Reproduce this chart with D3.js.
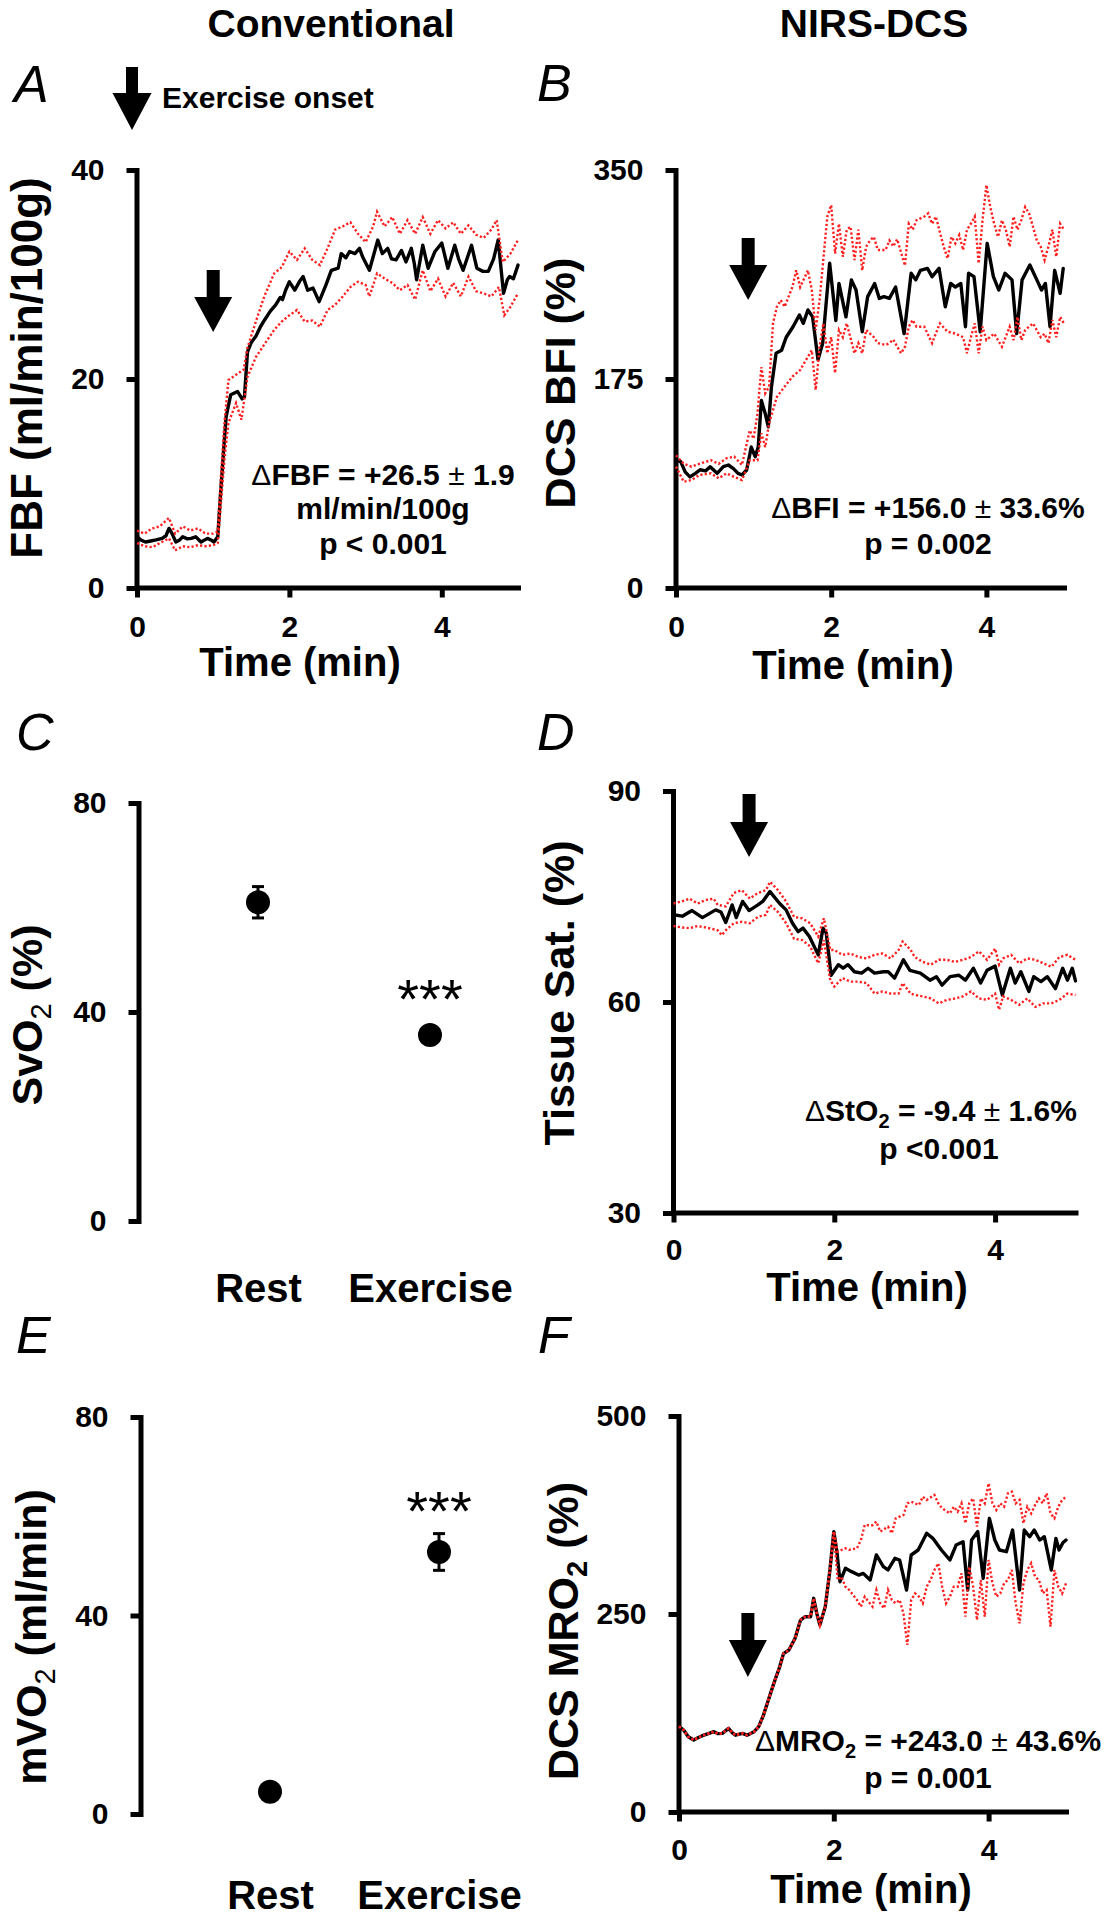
<!DOCTYPE html>
<html><head><meta charset="utf-8">
<script src="https://cdn.jsdelivr.net/npm/d3@7"></script>
<style>
body{margin:0;background:#fff;}
svg text{font-family:"Liberation Sans",Arial,sans-serif;fill:#000;}
</style></head><body>
<svg id="c" width="1106" height="1920"></svg>
<script>
// ---------------- DATA ----------------
const timeTicks = [0, 2, 4];
const categories = ["Rest", "Exercise"];

// Panel A: FBF (ml/min/100g) [time(min), value]
const fbfMean = [[0,4.9],[0.05,4.6],[0.11,4.4],[0.18,4.5],[0.25,4.6],[0.33,4.75],[0.38,5.0],[0.42,5.7],[0.46,5.2],[0.51,4.4],[0.56,4.6],[0.6,4.9],[0.66,4.7],[0.71,4.75],[0.77,4.9],[0.84,4.4],[0.925,4.75],[0.97,4.6],[1.01,4.4],[1.06,4.9],[1.1,9.4],[1.14,13.5],[1.17,16.4],[1.23,18.5],[1.32,18.8],[1.38,18.1],[1.41,18.3],[1.45,22.6],[1.5,23.5],[1.56,24.1],[1.62,25.0],[1.67,25.6],[1.75,26.5],[1.82,27.1],[1.88,27.8],[1.91,27.6],[1.95,28.5],[2.0,29.3],[2.07,28.5],[2.13,29.3],[2.18,29.8],[2.24,28.5],[2.31,28.7],[2.39,27.4],[2.48,29.0],[2.55,30.4],[2.64,30.6],[2.68,32.0],[2.74,31.6],[2.79,32.2],[2.86,32.0],[2.92,32.5],[2.96,31.7],[3.05,30.4],[3.16,33.3],[3.22,32.0],[3.29,32.5],[3.34,31.5],[3.4,31.4],[3.47,32.3],[3.53,31.2],[3.6,32.5],[3.64,31.0],[3.67,29.5],[3.75,32.8],[3.82,30.6],[3.91,32.2],[4.0,33.0],[4.08,30.6],[4.17,32.8],[4.22,31.5],[4.28,30.4],[4.39,32.8],[4.46,30.6],[4.54,30.3],[4.61,30.3],[4.68,31.5],[4.74,33.3],[4.81,28.2],[4.86,29.5],[4.89,29.8],[4.94,29.6],[5.0,30.9]];
const fbfUpper = [[0,5.5],[0.1,5.2],[0.2,5.7],[0.3,5.9],[0.42,6.7],[0.5,5.2],[0.6,5.9],[0.7,5.5],[0.8,5.7],[0.9,5.2],[1.0,5.2],[1.06,5.4],[1.1,10.5],[1.15,16.0],[1.2,19.9],[1.3,20.4],[1.4,20.9],[1.45,23.0],[1.56,25.5],[1.67,27.9],[1.8,30.1],[1.9,30.7],[2.0,32.2],[2.1,31.4],[2.2,32.5],[2.3,31.4],[2.4,30.9],[2.5,32.5],[2.6,34.3],[2.7,34.6],[2.8,35.0],[2.9,33.9],[3.0,33.1],[3.1,34.6],[3.15,36.0],[3.25,34.6],[3.35,35.5],[3.45,33.9],[3.55,35.2],[3.65,33.9],[3.75,35.5],[3.85,33.9],[3.95,35.2],[4.05,34.4],[4.15,35.0],[4.25,33.9],[4.35,34.7],[4.45,33.8],[4.55,33.5],[4.65,34.3],[4.72,35.2],[4.8,31.2],[4.9,32.0],[5.0,33.3]];
const fbfLower = [[0,4.3],[0.1,4.0],[0.2,3.9],[0.3,4.3],[0.42,4.75],[0.5,3.6],[0.6,4.0],[0.7,3.9],[0.8,4.1],[0.9,4.0],[1.0,4.1],[1.06,4.3],[1.1,8.0],[1.15,12.5],[1.2,15.8],[1.3,17.7],[1.37,16.1],[1.45,20.2],[1.56,22.1],[1.67,23.3],[1.8,24.7],[1.9,25.5],[2.0,26.1],[2.1,26.6],[2.2,25.5],[2.3,25.6],[2.4,25.0],[2.5,26.6],[2.6,27.1],[2.7,27.9],[2.8,28.8],[2.9,29.3],[3.0,29.0],[3.05,27.9],[3.15,30.1],[3.25,29.6],[3.35,29.2],[3.45,28.5],[3.55,29.0],[3.65,27.6],[3.75,30.4],[3.85,28.4],[3.95,29.6],[4.05,27.9],[4.15,29.2],[4.25,27.9],[4.35,29.8],[4.45,28.4],[4.55,28.2],[4.65,27.9],[4.75,28.8],[4.82,26.1],[4.9,26.9],[5.0,28.2]];

// Panel B: DCS BFI (%)
const bfiMean = [[0,107],[0.06,105.8],[0.12,97],[0.18,93],[0.25,96],[0.31,99],[0.38,98],[0.44,101.6],[0.53,96],[0.61,101.6],[0.675,103],[0.74,100],[0.8,96],[0.85,94.6],[0.91,98.8],[0.97,118],[1.02,110],[1.06,118],[1.1,157],[1.15,146],[1.19,135],[1.23,168.6],[1.29,196.5],[1.36,199],[1.42,210],[1.51,219],[1.59,228.6],[1.64,221.6],[1.7,232.8],[1.76,227],[1.83,191],[1.89,205],[1.98,272],[2.06,224],[2.1,255],[2.19,227],[2.26,258],[2.32,249.5],[2.4,214.6],[2.47,244],[2.56,255],[2.62,242.5],[2.68,244],[2.75,242.5],[2.83,252],[2.94,213],[3.03,263.5],[3.09,258],[3.15,266],[3.24,267.6],[3.3,260.7],[3.39,267.6],[3.47,235.5],[3.54,255],[3.6,252],[3.67,255],[3.73,218.8],[3.77,263.5],[3.84,260.7],[3.92,214.6],[4.01,288.6],[4.09,260.7],[4.16,249.5],[4.24,263.5],[4.33,258],[4.39,213],[4.46,258],[4.56,270.4],[4.65,258],[4.71,249.5],[4.76,255],[4.82,218.8],[4.88,266],[4.95,246.7],[4.99,267.6]];
const bfiUpper = [[0,111],[0.1,104],[0.2,101.6],[0.3,104],[0.45,107],[0.55,104],[0.65,108.6],[0.75,110],[0.85,103],[0.95,132],[1.0,125],[1.05,146],[1.1,185],[1.15,163],[1.2,168.6],[1.25,221.6],[1.3,235.5],[1.35,241],[1.4,235.5],[1.5,252],[1.55,266],[1.6,252],[1.7,266],[1.75,249.5],[1.8,216],[1.85,241],[1.95,311],[2.0,320.7],[2.05,280],[2.1,305],[2.15,277.4],[2.2,300],[2.25,302.5],[2.3,274.6],[2.35,300],[2.4,266],[2.45,285.8],[2.5,291],[2.55,294],[2.6,283],[2.7,283],[2.75,291],[2.8,286],[2.85,292],[2.95,270],[3.0,305],[3.05,300],[3.1,308],[3.2,311],[3.25,313.7],[3.3,305],[3.35,311],[3.4,298],[3.45,285.8],[3.5,276],[3.55,294],[3.6,288.6],[3.65,295.6],[3.7,283],[3.75,300],[3.8,305],[3.85,311],[3.9,271.8],[3.95,308],[4.0,337.4],[4.05,319],[4.1,305],[4.15,294],[4.2,308],[4.25,300],[4.3,285.8],[4.35,311],[4.4,300],[4.45,308],[4.5,319],[4.55,313.7],[4.6,302.5],[4.65,291],[4.7,285.8],[4.75,274.6],[4.8,286],[4.85,300],[4.9,277.4],[4.95,305],[5.0,300]];
const bfiLower = [[0,101.6],[0.1,89],[0.2,90.4],[0.3,94.6],[0.45,96],[0.55,91.8],[0.65,96],[0.75,93],[0.85,90.4],[0.95,107],[1.05,107],[1.1,129.5],[1.15,118],[1.2,137.9],[1.25,149],[1.3,160],[1.4,168.6],[1.5,177],[1.6,182.5],[1.7,193.7],[1.75,199],[1.8,165.8],[1.85,202],[1.9,221.6],[1.95,196.5],[2.0,210],[2.05,180],[2.1,216],[2.15,210],[2.2,221.6],[2.3,196.5],[2.35,205],[2.4,196.5],[2.45,216],[2.55,210],[2.6,205],[2.7,203.5],[2.75,205],[2.8,208],[2.9,196.5],[2.95,202],[3.0,218.8],[3.05,224.4],[3.1,218.8],[3.2,218.8],[3.3,205],[3.4,221.6],[3.5,214.6],[3.6,213],[3.7,210],[3.75,196.5],[3.8,210],[3.85,221.6],[3.9,196.5],[3.95,218.8],[4.0,207.6],[4.1,213],[4.2,202],[4.3,218.8],[4.35,207.6],[4.4,227],[4.45,207.6],[4.5,216],[4.6,221.6],[4.7,210],[4.75,213],[4.8,205],[4.85,224.4],[4.9,210],[4.95,227],[5.0,221.6]];

// Panel C: SvO2 (%)
const svoMean = [61, 35.6];
const svoErr = [3.0, 1.0];

// Panel D: Tissue Sat. (%)
const stoMean = [[0,72.4],[0.11,72.2],[0.23,73],[0.36,72],[0.45,72.6],[0.525,73.1],[0.59,72.8],[0.65,71.3],[0.73,73.8],[0.78,72],[0.86,74.3],[0.94,73],[1.05,73.8],[1.11,74.3],[1.2,75.7],[1.32,74],[1.4,73.1],[1.48,71.2],[1.55,70],[1.61,70.5],[1.69,69.3],[1.8,66.7],[1.86,70.5],[1.9,69.8],[1.96,63.8],[2.05,65.3],[2.11,64.8],[2.17,65.3],[2.25,64.3],[2.34,64.1],[2.42,64.8],[2.5,64.1],[2.61,64.3],[2.67,64.3],[2.75,63.4],[2.86,66],[2.94,64.5],[3.07,64.1],[3.19,63.1],[3.27,63.6],[3.34,62.4],[3.44,63.6],[3.55,63.8],[3.63,63.1],[3.73,64.8],[3.82,62.7],[3.9,64.5],[4.0,65.1],[4.09,61],[4.19,64.8],[4.25,62.7],[4.32,64.3],[4.42,61.5],[4.48,63.6],[4.57,62.9],[4.65,63.6],[4.75,61.9],[4.84,64.8],[4.9,63.1],[4.96,64.8],[5.0,63]];
const stoUpper = [[0,74],[0.1,74.3],[0.2,74.7],[0.3,74],[0.4,74.5],[0.5,74.7],[0.55,73.8],[0.65,73.6],[0.75,75.5],[0.85,75.9],[0.95,74.7],[1.05,75.5],[1.15,75.9],[1.2,77.1],[1.3,75.9],[1.4,74.3],[1.5,72.1],[1.6,71.9],[1.7,71.2],[1.8,69.3],[1.87,71.9],[1.95,67.4],[2.0,67.4],[2.1,66.7],[2.2,66.9],[2.3,66.4],[2.4,66.2],[2.5,66.7],[2.6,66.9],[2.7,66.2],[2.8,67.4],[2.85,68.6],[2.95,67.4],[3.0,66.4],[3.1,65.7],[3.2,65.3],[3.3,66],[3.4,66],[3.5,65.7],[3.6,66],[3.7,66.4],[3.8,67.2],[3.9,66],[4.0,67.6],[4.05,65.3],[4.1,66.2],[4.2,66.7],[4.3,65.5],[4.4,66.2],[4.5,66],[4.6,65.5],[4.7,65],[4.8,66.4],[4.9,66.7],[5.0,66]];
const stoLower = [[0,70.8],[0.1,70.6],[0.2,70.5],[0.3,70.8],[0.4,70.6],[0.55,70.2],[0.6,69.5],[0.65,70.2],[0.75,71.2],[0.85,71.4],[0.95,71.2],[1.05,72.1],[1.15,72.4],[1.2,73.8],[1.3,72.8],[1.4,71.2],[1.5,69],[1.6,68.8],[1.7,67.9],[1.8,65.5],[1.87,68.8],[1.95,63.1],[2.0,62.2],[2.1,63.4],[2.2,62.9],[2.3,62.9],[2.4,62.7],[2.5,61.2],[2.6,61.5],[2.7,61.2],[2.8,61.2],[2.85,62.7],[2.95,61.2],[3.0,61],[3.1,60.8],[3.2,60.5],[3.3,59.8],[3.4,60.3],[3.5,60.5],[3.6,60.8],[3.7,61.5],[3.8,60.5],[3.9,60.3],[4.0,61.2],[4.05,58.9],[4.1,60.8],[4.2,60.3],[4.3,59.6],[4.4,60.5],[4.5,59.3],[4.6,59.8],[4.7,59.8],[4.8,60.3],[4.9,61.2],[5.0,61]];

// Panel E: mVO2 (ml/min)
const mvoMean = [4.5, 52.8];
const mvoErr = [0.8, 3.7];

// Panel F: DCS MRO2 (%)
const mroMean = [[0,108],[0.06,103.5],[0.12,95],[0.19,91],[0.25,94],[0.32,97],[0.38,99],[0.45,101.4],[0.5,99],[0.56,99.3],[0.64,105.6],[0.69,100],[0.73,97],[0.82,99.3],[0.88,97],[0.97,101.4],[1.03,107.7],[1.09,122],[1.14,137],[1.19,152],[1.24,166.7],[1.3,183],[1.35,200],[1.42,204.5],[1.5,219.3],[1.57,242.4],[1.63,246.6],[1.7,246.6],[1.74,269.8],[1.78,250.8],[1.82,236],[1.89,259.3],[1.95,305.6],[2.0,354],[2.04,328.7],[2.08,290.8],[2.15,307.7],[2.23,303.5],[2.32,299.2],[2.38,301.3],[2.47,293],[2.55,324.5],[2.64,309.8],[2.7,305.6],[2.79,320.3],[2.85,318.2],[2.94,280.3],[3.0,324.5],[3.09,330.8],[3.2,351.9],[3.28,345.5],[3.39,330.8],[3.5,318.2],[3.58,337],[3.67,341.3],[3.73,280.3],[3.78,343.4],[3.86,354],[3.93,295],[4.01,370.8],[4.08,343.4],[4.14,330.8],[4.23,328.7],[4.31,356],[4.4,280.3],[4.46,356],[4.53,347.6],[4.59,356],[4.66,343.4],[4.72,347.6],[4.81,305.6],[4.87,345.5],[4.91,330.8],[4.96,340],[5.0,343.4]];
const mroUpper = [[2.0,354],[2.05,328.7],[2.1,330.8],[2.15,333],[2.2,331],[2.3,333],[2.35,343.4],[2.4,362.4],[2.45,362],[2.5,362],[2.55,366.6],[2.6,354],[2.7,360.3],[2.75,351.9],[2.8,370.8],[2.85,373],[2.9,375],[2.95,389.7],[3.0,391.8],[3.1,387.6],[3.15,398],[3.2,394],[3.3,400.3],[3.35,389.7],[3.4,383.4],[3.5,377],[3.55,385.5],[3.6,379.2],[3.65,389.7],[3.7,364.5],[3.75,389.7],[3.8,396],[3.85,360.3],[3.9,396],[3.95,389.7],[4.0,415],[4.05,389.7],[4.1,381.3],[4.15,389.7],[4.2,385.5],[4.25,402.4],[4.3,404.5],[4.35,389.7],[4.4,394],[4.45,364.5],[4.5,385.5],[4.55,377],[4.6,387.6],[4.65,396],[4.7,389.7],[4.75,402.4],[4.8,377],[4.85,370.8],[4.9,385.5],[4.95,394],[5.0,398]];
const mroLower = [[2.0,354],[2.05,293],[2.1,297],[2.15,284.5],[2.2,280.3],[2.3,267.7],[2.35,259.3],[2.4,271.9],[2.5,259.3],[2.55,280.3],[2.6,263.5],[2.65,257.2],[2.7,280.3],[2.75,267.7],[2.8,263.5],[2.85,267.7],[2.9,250.8],[2.95,210.9],[3.0,267.7],[3.05,276],[3.1,271.9],[3.15,263.5],[3.2,284.5],[3.25,293],[3.3,305.6],[3.35,314],[3.4,284.5],[3.45,263.5],[3.5,271.9],[3.55,284.5],[3.6,284.5],[3.65,301.3],[3.7,246.6],[3.75,309.8],[3.8,284.5],[3.85,242.4],[3.9,293],[3.95,246.6],[4.0,318.2],[4.05,288.7],[4.1,271.9],[4.15,276],[4.2,288.7],[4.25,293],[4.3,305.6],[4.35,263.5],[4.4,238.2],[4.45,288.7],[4.5,305.6],[4.55,314],[4.6,297],[4.65,293],[4.7,276],[4.75,280.3],[4.8,234],[4.85,305.6],[4.9,284.5],[4.95,276],[5.0,288.7]];

// ---------------- DRAWING ----------------
const svg = d3.select("#c");
const RED = "#ff1f1f";

function txt(x, y, s, size, opts = {}) {
  const t = svg.append("text").attr("x", x).attr("y", y)
    .attr("font-size", size)
    .attr("font-weight", opts.weight || "bold")
    .attr("text-anchor", opts.anchor || "start");
  if (opts.italic) t.attr("font-style", "italic");
  t.text(s);
  return t;
}

// rich text: parts = [{t, w, sub}]
function rich(x, y, parts, size, opts = {}) {
  const t = svg.append("text").attr("font-size", size)
    .attr("text-anchor", opts.anchor || "middle")
    .attr("font-weight", "bold");
  if (opts.rotate) t.attr("transform", `translate(${x},${y}) rotate(-90)`);
  else t.attr("x", x).attr("y", y);
  let shifted = 0;
  parts.forEach(p => {
    const sp = t.append("tspan").text(p.t);
    if (p.w) sp.attr("font-weight", p.w);
    const subShift = Math.round(size * 0.22);
    if (p.sub) {
      sp.attr("font-size", Math.round(size * 0.68)).attr("dy", subShift - shifted);
      shifted = subShift;
    } else if (shifted) {
      sp.attr("dy", -shifted); shifted = 0;
    }
  });
  return t;
}

function arrow(cx, top, headStart, tip, shaftW = 13, headW = 38) {
  const p = d3.path();
  p.moveTo(cx - shaftW / 2, top); p.lineTo(cx + shaftW / 2, top);
  p.lineTo(cx + shaftW / 2, headStart); p.lineTo(cx + headW / 2, headStart);
  p.lineTo(cx, tip); p.lineTo(cx - headW / 2, headStart);
  p.lineTo(cx - shaftW / 2, headStart); p.closePath();
  svg.append("path").attr("d", p.toString()).attr("fill", "#000");
}

function styleAxis(g, size) {
  g.attr("font-size", size).attr("font-family", "Liberation Sans, Arial, sans-serif").attr("font-weight", "bold");
  g.selectAll("path.domain").attr("stroke", "#000").attr("stroke-width", 5).attr("stroke-linecap", "square");
  g.selectAll(".tick line").attr("stroke", "#000").attr("stroke-width", 5);
  g.selectAll(".tick text").attr("fill", "#000");
}

function timePanel(c) {
  const x = d3.scaleLinear().domain([0, 5]).range([c.x0, c.x5]);
  const y = d3.scaleLinear().domain(c.yDomain).range([c.yBot, c.yTop]);
  const gy = svg.append("g").attr("transform", `translate(${c.x0 - 0.5},0)`)
    .call(d3.axisLeft(y).tickValues(c.yTicks).tickSize(10).tickSizeOuter(0).tickPadding(22).tickFormat(d3.format("d")));
  styleAxis(gy, 30);
  const gx = svg.append("g").attr("transform", `translate(0,${c.yBot - 0.5})`)
    .call(d3.axisBottom(x).tickValues(timeTicks).tickSize(10).tickSizeOuter(0).tickPadding(c.xPad || 18).tickFormat(d3.format("d")));
  styleAxis(gx, 30);
  const line = d3.line().x(d => x(d[0])).y(d => y(d[1]));
  svg.append("path").datum(c.mean).attr("d", line).attr("fill", "none")
    .attr("stroke", "#000").attr("stroke-width", 3.4).attr("stroke-linejoin", "round").attr("stroke-linecap", "round");
  [c.upper, c.lower].forEach(b => {
    svg.append("path").datum(b).attr("d", line).attr("fill", "none")
      .attr("stroke", RED).attr("stroke-width", 2.4).attr("stroke-dasharray", "2.2,2.2");
  });
  arrow(x(c.arrowT), c.arrow[0], c.arrow[1], c.arrow[2]);
  txt(c.xLabel[0], c.xLabel[1], "Time (min)", 40, { anchor: "middle" });
  return { x, y };
}

function catPanel(c) {
  const x = d3.scalePoint().domain(categories).range(c.xRange);
  const y = d3.scaleLinear().domain([0, 80]).range([c.yBot, c.yTop]);
  const gy = svg.append("g").attr("transform", `translate(${c.x0 - 0.5},0)`)
    .call(d3.axisLeft(y).tickValues([0, 40, 80]).tickSize(10).tickSizeOuter(0).tickPadding(22));
  styleAxis(gy, 30);
  const gx = svg.append("g").attr("transform", `translate(0,${c.catY})`)
    .call(d3.axisBottom(x).tickSize(0).tickPadding(0));
  gx.select("path.domain").remove();
  gx.attr("font-size", 40).attr("font-family", "Liberation Sans, Arial, sans-serif").attr("font-weight", "bold");
  gx.selectAll(".tick text").attr("fill", "#000");
  const pts = categories.map((k, i) => ({ k, m: c.mean[i], e: c.err[i] }));
  const g = svg.append("g");
  pts.forEach(p => {
    const cx = x(p.k);
    g.append("line").attr("x1", cx).attr("x2", cx).attr("y1", y(p.m - p.e)).attr("y2", y(p.m + p.e))
      .attr("stroke", "#000").attr("stroke-width", 3);
    [p.m - p.e, p.m + p.e].forEach(v => g.append("line").attr("x1", cx - 6).attr("x2", cx + 6)
      .attr("y1", y(v)).attr("y2", y(v)).attr("stroke", "#000").attr("stroke-width", 3));
    g.append("circle").attr("cx", cx).attr("cy", y(p.m)).attr("r", 12).attr("fill", "#000");
  });
  const ex = pts[1];
  svg.append("text").attr("x", x(ex.k)).attr("y", y(ex.m + ex.e) - c.starGap)
    .attr("text-anchor", "middle").attr("font-size", 56).attr("font-weight", "normal").text("***");
  return { x, y };
}

// Headers
txt(331, 37, "Conventional", 39, { anchor: "middle" });
txt(874, 37, "NIRS-DCS", 39, { anchor: "middle" });
// Panel letters
[["A", 14, 102], ["B", 537, 101], ["C", 16, 750], ["D", 537, 750], ["E", 16, 1353], ["F", 538, 1353]]
  .forEach(([s, x, y]) => txt(x, y, s, 52, { weight: "normal", italic: true }));
// Exercise onset legend
arrow(132, 67, 93, 130, 12, 39);
txt(162, 108, "Exercise onset", 30);

// Panel A
timePanel({ x0: 137, x5: 518, yTop: 170, yBot: 588, yDomain: [0, 40], yTicks: [0, 20, 40],
  mean: fbfMean, upper: fbfUpper, lower: fbfLower, arrowT: 1.0, arrow: [270, 297, 332], xLabel: [300, 676] });
rich(42, 368, [{ t: "FBF (ml/min/100g)" }], 44, { rotate: true });
rich(383, 485, [{ t: "Δ", w: "normal" }, { t: "FBF = +26.5 " }, { t: "±", w: "normal" }, { t: " 1.9" }], 30);
rich(383, 519, [{ t: "ml/min/100g" }], 30);
rich(383, 554, [{ t: "p < 0.001" }], 30);

// Panel B
timePanel({ x0: 676, x5: 1064, yTop: 170, yBot: 588, yDomain: [0, 350], yTicks: [0, 175, 350],
  mean: bfiMean, upper: bfiUpper, lower: bfiLower, arrowT: 0.93, arrow: [238, 265, 300], xLabel: [853, 679] });
rich(575, 383, [{ t: "DCS BFI (%)" }], 43, { rotate: true });
rich(928, 518, [{ t: "Δ", w: "normal" }, { t: "BFI = +156.0 " }, { t: "±", w: "normal" }, { t: " 33.6%" }], 30);
rich(928, 554, [{ t: "p = 0.002" }], 30);

// Panel C
catPanel({ x0: 139, yTop: 803, yBot: 1221, xRange: [258, 430], mean: svoMean, err: svoErr, catY: 1274, starGap: 12 });
rich(42, 1015, [{ t: "SvO" }, { t: "2", sub: true, w: "normal" }, { t: " (%)" }], 43, { rotate: true });

// Panel D
timePanel({ x0: 673.5, x5: 1075.5, yTop: 791, yBot: 1213, yDomain: [30, 90], yTicks: [30, 60, 90],
  mean: stoMean, upper: stoUpper, lower: stoLower, arrowT: 0.94, arrow: [794, 822, 857], xLabel: [867, 1301], xPad: 16 });
rich(574, 993, [{ t: "Tissue Sat. (%)" }], 43, { rotate: true });
rich(941, 1121, [{ t: "Δ", w: "normal" }, { t: "StO" }, { t: "2", sub: true }, { t: " = -9.4 " }, { t: "±", w: "normal" }, { t: " 1.6%" }], 30);
rich(939, 1159, [{ t: "p <0.001" }], 30);

// Panel E
catPanel({ x0: 141, yTop: 1417, yBot: 1814, xRange: [270, 439], mean: mvoMean, err: mvoErr, catY: 1881, starGap: 4 });
rich(46, 1637, [{ t: "mVO" }, { t: "2", sub: true, w: "normal" }, { t: " (ml/min)" }], 43, { rotate: true });

// Panel F (bands coincide with the mean before 2 min)
const mroEarly = mroMean.filter(d => d[0] < 2.0);
timePanel({ x0: 679, x5: 1066, yTop: 1416, yBot: 1812, yDomain: [0, 500], yTicks: [0, 250, 500],
  mean: mroMean, upper: mroEarly.concat(mroUpper), lower: mroEarly.concat(mroLower),
  arrowT: 0.89, arrow: [1613, 1640, 1677], xLabel: [871, 1903], xPad: 17 });
rich(578, 1631, [{ t: "DCS MRO" }, { t: "2", sub: true }, { t: " (%)" }], 43, { rotate: true });
rich(928, 1751, [{ t: "Δ", w: "normal" }, { t: "MRO" }, { t: "2", sub: true }, { t: " = +243.0 " }, { t: "±", w: "normal" }, { t: " 43.6%" }], 30);
rich(928, 1788, [{ t: "p = 0.001" }], 30);
</script>
</body></html>
